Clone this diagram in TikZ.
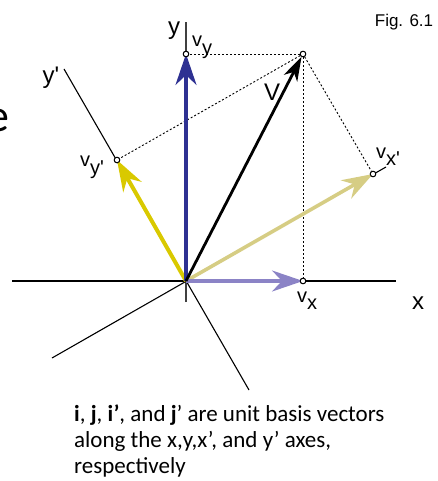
\documentclass[tikz,border=0pt]{standalone}
\usepackage{fontspec}
\setmainfont{Liberation Sans}[Ligatures=TeXOff]
\newfontfamily\calib{Carlito}
\usetikzlibrary{arrows.meta}
\definecolor{vblue}{RGB}{46,49,146}
\definecolor{vpurple}{RGB}{139,131,198}
\definecolor{vyellow}{RGB}{217,201,0}
\definecolor{vkhaki}{RGB}{214,205,132}
\newcommand{\vsb}[1]{v\raisebox{-0.38em}{#1}}
\tikzset{
  axisline/.style={line width=1.1pt, black},
  dotline/.style={line width=0.9pt, dash pattern=on 2pt off 2pt},
  vdot/.style={circle, draw=black, fill=white, inner sep=0pt, minimum size=5.5pt, line width=0.9pt},
  bigarrow/.style={line width=3.2pt, -{Stealth[length=31pt,width=21pt,inset=10pt]}},
  varrow/.style={line width=2.8pt, -{Stealth[length=24pt,width=15pt,inset=7pt]}},
  biglab/.style={font=\fontsize{24}{24}\selectfont, inner sep=0pt},
  vlab/.style={font=\fontsize{20}{20}\selectfont, inner sep=0pt},
  captext/.style={font=\calib\fontsize{23}{26}\selectfont, inner sep=0pt, anchor=base west},
}
\begin{document}
\begin{tikzpicture}[x=1pt,y=-1pt]
\useasboundingbox (0,0) rectangle (438,481);
\clip (0,0) rectangle (438,481);
% key points
\coordinate (O) at (186,281);
\coordinate (V) at (303,54);
\coordinate (VY) at (186,54);
\coordinate (VX) at (303,281);
\coordinate (VXP) at (373,174);
\coordinate (VYP) at (117,160);
% axis ends
\coordinate (xa0) at (12,281);
\coordinate (xa1) at (396,281);
\coordinate (ya0) at (186,302);
\coordinate (ya1) at (186,22);
\coordinate (xp0) at (52,358);
\coordinate (xp1) at (386,167);
\coordinate (yp0) at (249,390);
\coordinate (yp1) at (64,69);
% axes
\draw[axisline] (xa0) -- (xa1);
\draw[line width=1.1pt, black!75] (ya0) -- (ya1);
\draw[axisline] (xp0) -- (xp1);
\draw[axisline] (yp0) -- (yp1);
% dots
\node[vdot] (dV) at (V) {};
\node[vdot] (dVY) at (VY) {};
\node[vdot] (dVX) at (VX) {};
\node[vdot] (dVXP) at (VXP) {};
\node[vdot] (dVYP) at (VYP) {};
% projection lines
\draw[dotline] (dV) -- (dVY);
\draw[dotline] (dV) -- (dVX);
\draw[dotline] (dV) -- (dVXP);
\draw[dotline] (dV) -- (dVYP);
% vectors
\draw[bigarrow, vkhaki, line width=3.6pt] (O) -- (VXP);
\draw[bigarrow, vyellow, line width=4pt] (O) -- (VYP);
\draw[bigarrow, vblue] (O) -- (VY);
\draw[bigarrow, vpurple] (O) -- (VX);
\draw[varrow, black] (O) -- (dV);
% redraw dots on top
\node[vdot] at (V) {};
\node[vdot] at (VY) {};
\node[vdot] at (VX) {};
\node[vdot] at (VXP) {};
\node[vdot] at (VYP) {};
% labels
\node[biglab] (ly) at (174,31) {y};
\node[biglab] (lyp) at (51,78) {y'};
\node[biglab] (lx) at (418,303) {x};
\node[biglab] (lV) at (272,92) {V};
\node[vlab, anchor=base west] (lvy) at (192,47) {\vsb{y}};
\node[vlab, anchor=base west] (lvx) at (297,302) {\vsb{x}};
\node[vlab, anchor=base west] (lvyp) at (80,167) {\vsb{y'}};
\node[vlab, anchor=base west] (lvxp) at (376,158) {\vsb{x'}};
\node[font=\fontsize{17}{17}\selectfont, inner sep=0pt] (fig) at (404,22) {Fig. 6.1};
% partial slide text
\node[font=\calib\fontsize{46}{46}\selectfont, inner sep=0pt, anchor=base east] (pe) at (10,132) {e};
\node[text=black!45, font=\calib\fontsize{16}{16}\selectfont, inner sep=0pt, anchor=base west] (p02) at (-2,492) {02};
\node[text=black!45, font=\calib\fontsize{16}{16}\selectfont, inner sep=0pt, anchor=base west] (p13) at (392,492) {13};
% caption
\node[captext] (cap1) at (74,421) {\textbf{i}, \textbf{j}, \textbf{i’}, and \textbf{j}’ are unit basis vectors};
\node[captext] (cap2) at (74,447) {along the x,y,x’, and y’ axes,};
\node[captext] (cap3) at (74,473) {respectively};
\end{tikzpicture}
\end{document}
